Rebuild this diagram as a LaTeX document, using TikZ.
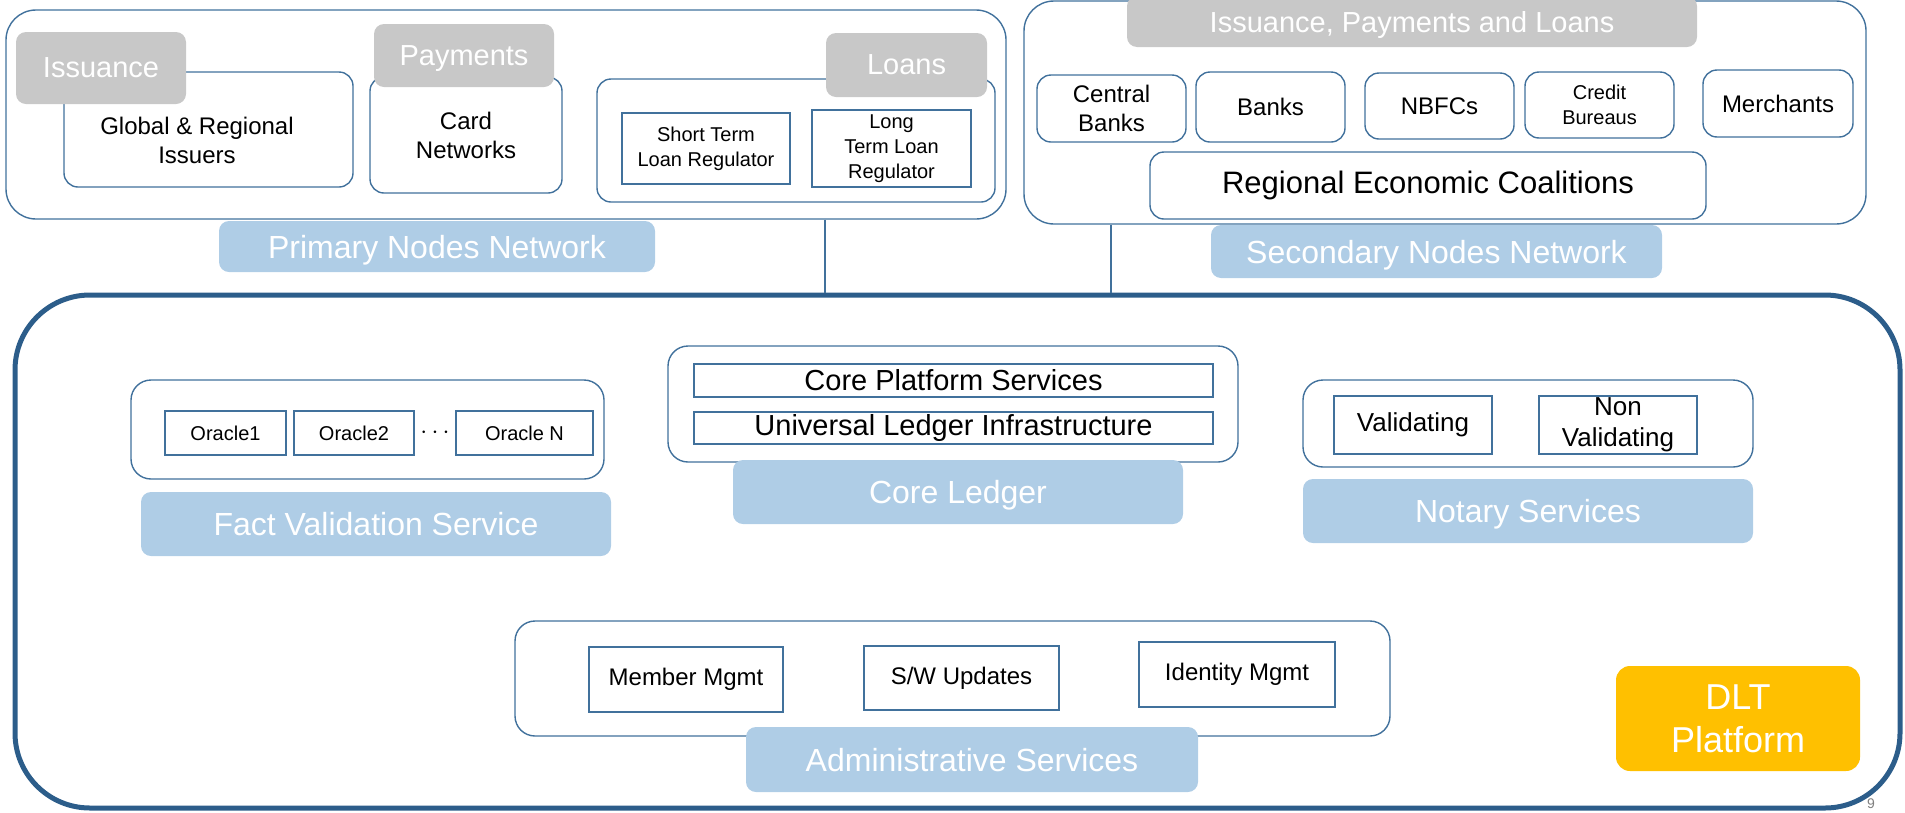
\documentclass[tikz,border=0pt]{standalone}
\usepackage{fontspec}
\setmainfont{Liberation Sans}
\usetikzlibrary{positioning}

\definecolor{edgeblue}{RGB}{65,113,156}
\definecolor{frameblue}{RGB}{44,93,138}
\definecolor{tabgray}{RGB}{200,200,200}
\definecolor{tagblue}{RGB}{175,205,230}
\definecolor{dltorange}{RGB}{255,192,0}

\begin{document}
\begin{tikzpicture}[x=1pt, y=-1pt,
	every node/.style={inner sep=0pt, align=center},
	sz/.style 2 args={minimum width=#1, minimum height=#2},
	group/.style={draw=edgeblue, line width=1.4, rounded corners=30},
	card/.style={draw=edgeblue, line width=1.4, rounded corners=14, fill=white},
	cell/.style={draw=edgeblue, line width=1.3, fill=white},
	tab/.style={fill=tabgray, rounded corners=10, text=white, text depth=0pt, font=\fontsize{29}{35}\selectfont},
	tag/.style={fill=tagblue, rounded corners=10, text=white, text depth=0pt, font=\fontsize{32}{38}\selectfont},
	link/.style={draw=edgeblue, line width=2},
	f20/.style={font=\fontsize{20}{25}\selectfont},
	f24/.style={font=\fontsize{24}{29}\selectfont},
	f26/.style={font=\fontsize{26}{31}\selectfont},
	f29/.style={font=\fontsize{29}{35}\selectfont},
	f31/.style={font=\fontsize{31}{37}\selectfont}]
	\useasboundingbox (0,0) rectangle (1905,812);

	% primary nodes network
	\node[group, sz={1000}{209}] (prim) at (506,114.5) {};
	\node[card, sz={289}{115}] (gri) at (208.5,129.5) {};
	\node[f24] (grit) at (197,140) {Global \& Regional\\Issuers};
	\node[card, f24, sz={192}{116}] (cardnet) at (466,135) {Card\\Networks};
	\node[card, sz={398}{123}] (loanbox) at (796,140.5) {};
	\node[cell, f20, sz={168}{71}] (stl) at (706,148.5) {Short Term\\Loan Regulator};
	\node[cell, f20, sz={159}{77}] (ltl) at (891.5,148.5) {Long\\Term Loan\\Regulator};
	\node[tab, sz={170}{72}] (isstab) at (101,68) {Issuance};
	\node[tab, sz={180}{63}] (paytab) at (464,55.5) {Payments};
	\node[tab, sz={161}{64}] (loantab) at (906.5,65) {Loans};
	\node[tag, sz={436}{51}] (primlbl) at (437,246.5) {Primary Nodes Network};

	% secondary nodes network
	\node[group, sz={842}{223}] (sec) at (1445,112.5) {};
	\node[tab, sz={570}{51}] (ipltab) at (1412,21.5) {Issuance, Payments and Loans};
	\node[card, f24, sz={149}{67}] (cbank) at (1111.5,108.5) {Central\\Banks};
	\node[card, f24, sz={149}{70}] (banks) at (1270.5,107) {Banks};
	\node[card, f24, sz={149}{66}] (nbfc) at (1439.5,106) {NBFCs};
	\node[card, f20, sz={149}{66}] (cbur) at (1599.5,105) {Credit\\Bureaus};
	\node[card, f24, sz={150}{67}] (merch) at (1778,103.5) {Merchants};
	\node[card, f31, sz={556}{67}] (rec) at (1428,185.5) {Regional Economic Coalitions};
	\node[tag, sz={451}{53}] (seclbl) at (1436.5,251.5) {Secondary Nodes Network};

	% DLT platform
	\node[draw=frameblue, line width=5, rounded corners=75, sz={1885}{513}] (platform) at (957.5,551.5) {};
	\coordinate (tapA) at (825,250);
	\coordinate (tapB) at (1111,250);
	\draw[link] (prim.south -| tapA) -- (platform.north -| tapA);
	\draw[link] (sec.south -| tapB) -- (platform.north -| tapB);

	% fact validation
	\node[card, rounded corners=20, sz={473}{99}] (fvs) at (367.5,429.5) {};
	\node[cell, f20, sz={121}{44}] (or1) at (225.5,433) {Oracle1};
	\node[cell, f20, sz={120}{44}] (or2) at (354,433) {Oracle2};
	\node[cell, f20, sz={137}{44}] (orN) at (524.5,433) {Oracle N};
	\node[f26] (dots) at (435,433) {$\cdots$};
	\node[tag, sz={470}{64}] (fvslbl) at (376,524) {Fact Validation Service};

	% core ledger
	\node[card, rounded corners=20, sz={570}{116}] (core) at (953,404) {};
	\node[cell, f29, sz={519}{33}] (cps) at (953.5,380.5) {Core Platform Services};
	\node[cell, f29, sz={519}{32}] (uli) at (953.5,428) {Universal Ledger Infrastructure};
	\node[tag, sz={450}{64}] (corelbl) at (958,492) {Core Ledger};

	% notary
	\node[card, rounded corners=20, sz={450}{87}] (notary) at (1528,423.5) {};
	\node[cell, f26, sz={158}{58}] (val) at (1413,425) {Validating};
	\node[cell, f26, sz={158}{58}] (nval) at (1618,425) {Non\\Validating};
	\node[tag, sz={450}{64}] (notlbl) at (1528,511) {Notary Services};

	% administrative
	\node[card, rounded corners=20, sz={875}{115}] (admin) at (952.5,678.5) {};
	\node[cell, f24, sz={194}{65}] (mem) at (686,679.5) {Member Mgmt};
	\node[cell, f24, sz={195}{64}] (swu) at (961.5,678) {S/W Updates};
	\node[cell, f24, sz={196}{65}] (idm) at (1237,674.5) {Identity Mgmt};
	\node[tag, sz={452}{65}] (admlbl) at (972,759.5) {Administrative Services};

	\node[fill=dltorange, rounded corners=14, text=white, text depth=0pt, font=\fontsize{36}{43}\selectfont, sz={244}{105}] (dlt) at (1738,718.5) {DLT\\Platform};
	\node[text=gray, font=\fontsize{14}{14}\selectfont] (pgno) at (1871,804) {9};
\end{tikzpicture}
\end{document}
